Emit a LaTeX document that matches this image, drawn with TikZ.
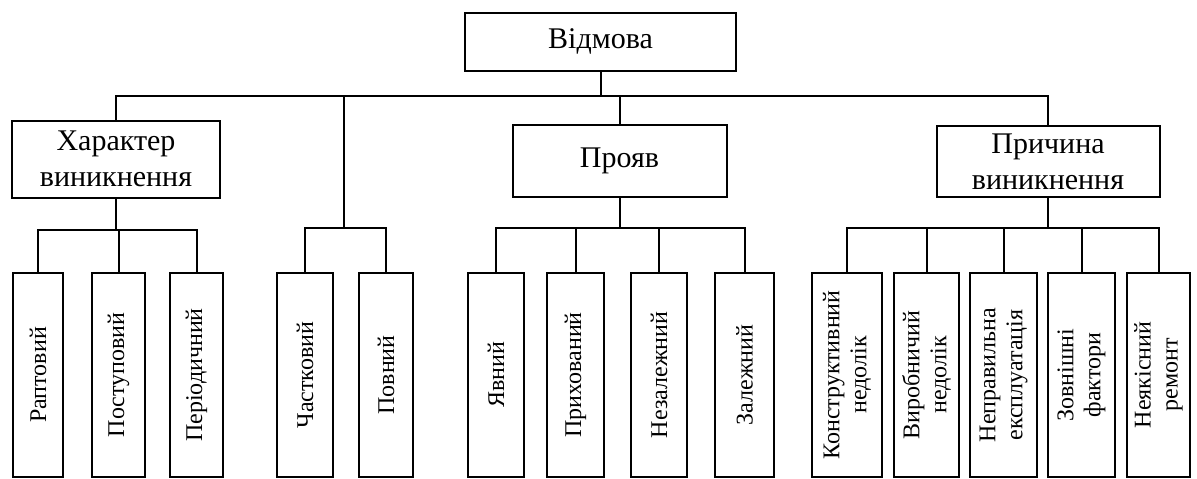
\documentclass[tikz,border=0pt]{standalone}
\usepackage{fontspec}
\setmainfont{Liberation Serif}
\begin{document}
\begin{tikzpicture}[x=0.5pt,y=-0.5pt,
    box/.style={draw,line width=1pt,align=center,inner sep=0pt,
      font=\fontsize{15}{18}\selectfont},
    leaf/.style={draw,line width=1pt,rotate=90,align=center,inner sep=0pt,
      minimum width=102pt,font=\fontsize{12}{13.5}\selectfont}]
      \useasboundingbox (0,0) rectangle (1197,478);
      \draw
        (600.5,41.5) node[box,minimum width=135.5pt,minimum height=29pt] (v){Відмова}
        (116,159) node[box,minimum width=104pt,minimum height=38.5pt] (kh){Характер\\виникнення}
        (619.5,161) node[box,minimum width=107pt,minimum height=36pt] (pr){Прояв}
        (1048,161.5) node[box,minimum width=111.5pt,minimum height=35.5pt] (pc){Причина\\виникнення}
        (38,375) node[leaf,minimum height=25pt] (l1){Раптовий}
        (118.5,375) node[leaf,minimum height=26.5pt] (l2){Поступовий}
        (196.5,375) node[leaf,minimum height=26.5pt] (l3){Періодичний}
        (305,375) node[leaf,minimum height=28pt] (ch){Частковий}
        (386,375) node[leaf,minimum height=27pt] (pv){Повний}
        (496,375) node[leaf,minimum height=28pt] (yv){Явний}
        (575.5,375) node[leaf,minimum height=28.5pt] (pk){Прихований}
        (659,375) node[leaf,minimum height=28pt] (nz){Незалежний}
        (744.5,375) node[leaf,minimum height=29.5pt] (zl){Залежний}
        (847,375) node[leaf,minimum height=35pt] (kn){Конструктивний\\недолік}
        (926.5,375) node[leaf,minimum height=32.5pt] (vr){Виробничий\\недолік}
        (1003.5,375) node[leaf,minimum height=33.5pt] (ne){Неправильна\\експлуатація}
        (1081.5,375) node[leaf,minimum height=33.5pt] (zf){Зовнішні\\фактори}
        (1158.5,375) node[leaf,minimum height=31.5pt] (nr){Неякісний\\ремонт};
      \coordinate (cp) at (344,228);
      \begin{scope}[line width=1pt]
        \draw (v.south) -- ++(0,24) -| (kh);
        \draw (v.south) -- ++(0,24) -| (cp);
        \draw (v.south) -- ++(0,24) -| (pr);
        \draw (v.south) -- ++(0,24) -| (pc);
        \draw (kh.south) -- ++(0,31) -| (l1);
        \draw (kh.south) -- ++(0,31) -| (l2);
        \draw (kh.south) -- ++(0,31) -| (l3);
        \draw (cp) -| (ch);
        \draw (cp) -| (pv);
        \draw (pr.south) -- ++(0,30) -| (yv);
        \draw (pr.south) -- ++(0,30) -| (pk);
        \draw (pr.south) -- ++(0,30) -| (nz);
        \draw (pr.south) -- ++(0,30) -| (zl);
        \draw (pc.south) -- ++(0,30) -| (kn);
        \draw (pc.south) -- ++(0,30) -| (vr);
        \draw (pc.south) -- ++(0,30) -| (ne);
        \draw (pc.south) -- ++(0,30) -| (zf);
        \draw (pc.south) -- ++(0,30) -| (nr);
      \end{scope}
    \end{tikzpicture}
\end{document}
